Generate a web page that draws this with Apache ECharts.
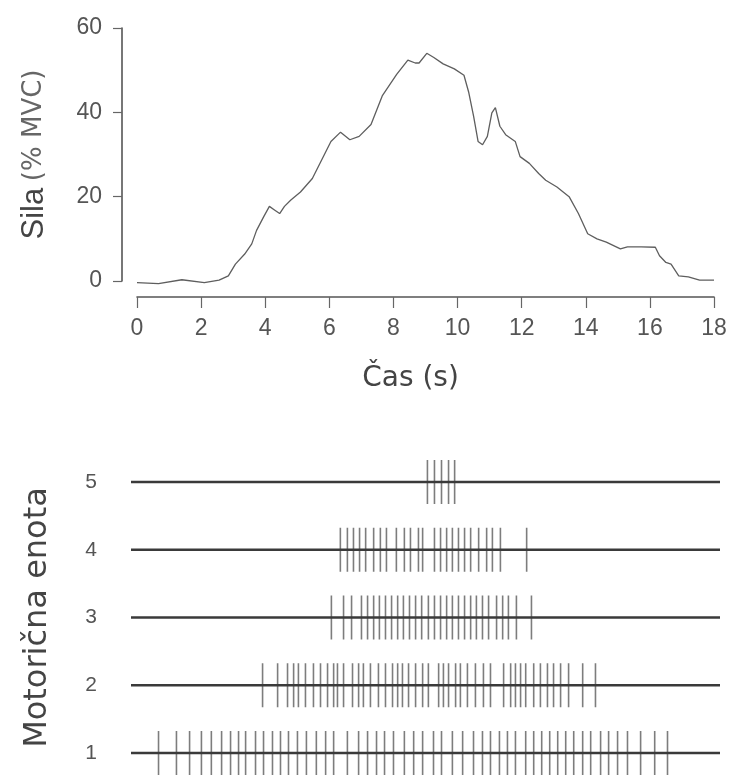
<!DOCTYPE html>
<html>
<head>
<meta charset="utf-8">
<script src="https://cdn.jsdelivr.net/npm/echarts@6/dist/echarts.min.js"></script>
<style>html,body{margin:0;padding:0;background:#fff;}#c{width:731px;height:780px;}</style>
</head>
<body>
<div id="c"></div>
<script>
// Force curve: time (s) and force (% MVC)
const forceTime = [0,0.67,1.4,2.1,2.56,2.85,3.07,3.36,3.58,3.73,3.95,4.13,4.3,4.45,4.6,4.8,5.1,5.47,5.76,6.05,6.35,6.64,6.93,7.3,7.65,8.1,8.45,8.68,8.8,9.04,9.26,9.55,9.9,10.2,10.35,10.5,10.64,10.78,10.93,11.07,11.18,11.32,11.5,11.8,11.95,12.24,12.53,12.75,13.1,13.48,13.77,14.06,14.35,14.64,15.08,15.3,15.73,16.17,16.3,16.5,16.66,16.9,17.2,17.55,18.0];
const forceValue = [-0.4,-0.6,0.3,-0.4,0.2,1.2,4,6.4,8.8,12,15.2,17.7,16.8,16,17.7,19.2,21.1,24.3,28.7,33.1,35.3,33.5,34.3,37.1,43.9,49,52.4,51.7,51.7,54,53,51.5,50.3,48.8,44.7,39.1,33.1,32.3,34.3,39.9,41.1,36.7,34.7,33.1,29.5,27.9,25.5,23.9,22.3,20,16,11.2,10,9.2,7.6,8.1,8.1,8,6,4.4,4,1.2,1,0.2,0.2];
const xTicks = [0,2,4,6,8,10,12,14,16,18];
const yTicks = [0,20,40,60];

// Motor unit spike times (s)
const unitLabels = ['1','2','3','4','5'];
const unit1 = [0.66,1.22,1.63,2.00,2.31,2.63,2.91,3.16,3.38,3.69,3.94,4.22,4.47,4.72,5.00,5.28,5.59,5.88,6.13,6.56,6.91,7.19,7.47,7.72,8.00,8.34,8.63,8.91,9.25,9.50,9.84,10.16,10.50,10.78,11.03,11.31,11.56,11.81,12.13,12.38,12.63,12.88,13.13,13.38,13.63,13.91,14.16,14.47,14.72,15.00,15.31,15.72,16.16,16.56];
const unit2 = [3.91,4.38,4.69,4.88,5.03,5.25,5.50,5.72,5.94,6.13,6.25,6.44,6.72,6.91,7.06,7.28,7.53,7.75,7.97,8.13,8.28,8.47,8.69,8.91,9.09,9.41,9.56,9.72,9.94,10.09,10.31,10.56,10.81,11.03,11.44,11.66,11.81,11.97,12.13,12.38,12.59,12.81,13.00,13.22,13.47,13.91,14.31];
const unit3 = [6.06,6.44,6.69,7.00,7.19,7.38,7.56,7.75,7.94,8.13,8.31,8.50,8.69,8.88,9.09,9.28,9.47,9.66,9.84,10.03,10.22,10.41,10.59,10.78,10.97,11.22,11.41,11.59,11.84,12.31];
const unit4 = [6.34,6.56,6.75,6.94,7.13,7.38,7.59,7.78,8.09,8.34,8.53,8.78,8.91,9.28,9.47,9.66,9.84,10.03,10.22,10.41,10.66,10.91,11.09,11.34,12.16];
const unit5 = [9.06,9.28,9.50,9.72,9.91];
const units = [unit1, unit2, unit3, unit4, unit5];
const rasterStart = -0.2, rasterEnd = 18.2;

const numFont = 'Liberation Sans';
const chart = echarts.init(document.getElementById('c'), null, {renderer: 'canvas'});

const series = [];
series.push({
  type: 'line', xAxisIndex: 0, yAxisIndex: 0, showSymbol: false, clip: false,
  data: forceTime.map((t, i) => [t, forceValue[i]]),
  lineStyle: {color: '#5e5e5e', width: 1.3}, animation: false
});
units.forEach((u, i) => {
  const row = i + 1;
  series.push({
    type: 'line', xAxisIndex: 1, yAxisIndex: 1, showSymbol: false, clip: false,
    data: [[rasterStart, row], [rasterEnd, row]],
    lineStyle: {color: '#3a3a3a', width: 2.4}, animation: false, z: 3
  });
  series.push({
    type: 'scatter', xAxisIndex: 1, yAxisIndex: 1, clip: false,
    symbol: 'rect', symbolSize: [1.6, 44],
    data: u.map(t => [t, row]),
    itemStyle: {color: '#5c5c5c', opacity: 0.8}, animation: false, z: 2
  });
});

chart.setOption({
  animation: false,
  grid: [
    {left: 137, right: 17, top: 28, height: 253},
    {left: 131, right: 11, top: 482, bottom: 27}
  ],
  xAxis: [
    {
      gridIndex: 0, type: 'value', min: 0, max: 18, interval: 2, offset: 16,
      axisLine: {show: true, onZero: false, lineStyle: {color: '#555', width: 1.6}},
      axisTick: {show: true, length: 11, lineStyle: {color: '#666', width: 1.2}},
      axisLabel: {color: '#555', fontSize: 23, fontFamily: numFont, margin: 20},
      splitLine: {show: false},
      name: 'Čas (s)', nameLocation: 'middle', nameGap: 68, nameMoveOverlap: false,
      nameTextStyle: {color: '#444', fontSize: 28, fontFamily: 'DejaVu Sans', padding: [0, 30, 0, 0]}
    },
    {
      gridIndex: 1, type: 'value', min: rasterStart, max: rasterEnd, show: false
    }
  ],
  yAxis: [
    {
      gridIndex: 0, type: 'value', min: 0, max: 60, interval: 20, offset: 15,
      axisLine: {show: true, onZero: false, lineStyle: {color: '#555', width: 1.6}},
      axisTick: {show: true, length: 9, lineStyle: {color: '#666', width: 1.2}},
      axisLabel: {color: '#555', fontSize: 23, fontFamily: numFont, margin: 20},
      splitLine: {show: false},
      name: '{a|Sila}  {b|(% MVC)}', nameLocation: 'middle', nameGap: 72, nameRotate: 90,
      nameMoveOverlap: false,
      nameTextStyle: {padding: [0, 0, 0, 0], rich: {
        a: {fontSize: 31, color: '#444', fontFamily: numFont},
        b: {fontSize: 26, color: '#666', fontFamily: 'DejaVu Sans'}
      }}
    },
    {
      gridIndex: 1, type: 'value', min: 1, max: 5, interval: 1,
      axisLine: {show: false}, axisTick: {show: false}, splitLine: {show: false},
      axisLabel: {color: '#555', fontSize: 21, fontFamily: numFont, margin: 34,
        formatter: v => unitLabels[v - 1] || ''},
      name: 'Motorična enota', nameLocation: 'middle', nameGap: 77, nameRotate: 90,
      nameMoveOverlap: false,
      nameTextStyle: {color: '#444', fontSize: 32, fontFamily: 'DejaVu Sans'}
    }
  ],
  series: series
});
</script>
</body>
</html>
